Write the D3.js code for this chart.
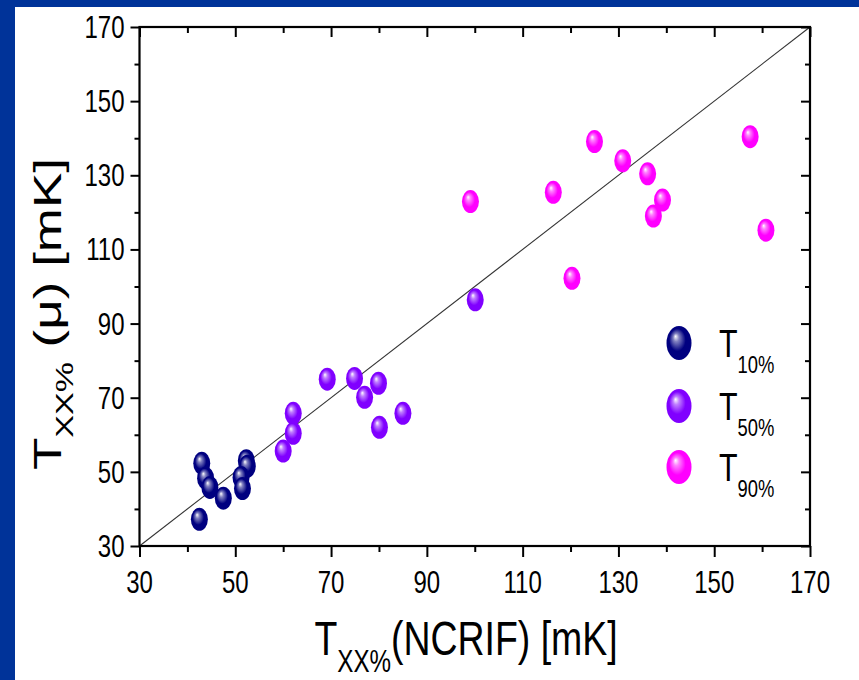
<!DOCTYPE html>
<html>
<head>
<meta charset="utf-8">
<script src="https://cdn.jsdelivr.net/npm/d3@7"></script>
<style>
html,body{margin:0;padding:0;background:#003399;}
svg{display:block;}
</style>
</head>
<body>
<svg id="chart" width="859" height="680"></svg>
<script>
// ---- data ----
const t10X = [43.0, 43.8, 44.7, 47.5, 42.5, 52.3, 52.5, 51.2, 51.5];
const t10Y = [52.3, 48.3, 45.8, 42.9, 37.2, 53.0, 51.5, 48.5, 45.5];
const t50X = [69.2, 74.9, 79.9, 77.0, 85.0, 80.1, 62.1, 62.1, 60.0, 100.1];
const t50Y = [75.0, 75.2, 73.9, 70.1, 65.8, 62.0, 65.8, 60.4, 55.6, 96.4];
const t90X = [99.1, 116.4, 125.0, 130.9, 120.3, 136.1, 139.2, 137.3, 157.5, 160.8];
const t90Y = [122.9, 125.4, 139.1, 133.9, 102.2, 130.4, 123.3, 119.0, 140.4, 115.2];
const seriesNames = ["10%", "50%", "90%"];
const seriesColors = ["#000080", "#8000ff", "#ff00ff"];
const tickValues = [30, 50, 70, 90, 110, 130, 150, 170];
const minorTicks = [40, 60, 80, 100, 120, 140, 160];
const domain = [30, 170];

(function () {
const svg = d3.select("#chart");
const W = 859, H = 680;
svg.append("rect").attr("x", 15).attr("y", 7).attr("width", W - 15).attr("height", H - 7).attr("fill", "#ffffff");

const L = 139.5, R = 810, T = 27, B = 546;
const x = d3.scaleLinear().domain(domain).range([L, R]);
const y = d3.scaleLinear().domain(domain).range([B, T]);

const defs = svg.append("defs");
seriesColors.forEach((c, i) => {
  const g = defs.append("radialGradient").attr("id", "ball" + i)
    .attr("cx", "0.5").attr("cy", "0.5").attr("r", "0.6")
    .attr("fx", "0.36").attr("fy", "0.3");
  g.append("stop").attr("offset", "0").attr("stop-color", "#ffffff");
  g.append("stop").attr("offset", "0.2").attr("stop-color", d3.interpolateRgb("#ffffff", c)(0.5));
  g.append("stop").attr("offset", "0.55").attr("stop-color", c);
  g.append("stop").attr("offset", "1").attr("stop-color", c);
});

const font = "'Liberation Sans', Arial, sans-serif";
const SX = 0.75;

// diagonal line
svg.append("line")
  .attr("x1", x(30)).attr("y1", y(30)).attr("x2", x(170)).attr("y2", y(170))
  .attr("stroke", "#333").attr("stroke-width", 1.1);

// axes frame
svg.append("rect").attr("x", L).attr("y", T).attr("width", R - L).attr("height", B - T)
  .attr("fill", "none").attr("stroke", "#000").attr("stroke-width", 2.2);

const axBottom = d3.axisBottom(x).tickValues(tickValues).tickSize(11).tickFormat("");
const axLeft = d3.axisLeft(y).tickValues(tickValues).tickSize(9).tickFormat("");
const axTop = d3.axisTop(x).tickValues(tickValues).tickSize(-10).tickFormat("");
const axRight = d3.axisRight(y).tickValues(tickValues).tickSize(-9).tickFormat("");
const axBottomMin = d3.axisBottom(x).tickValues(minorTicks).tickSize(6).tickFormat("");
const axLeftMin = d3.axisLeft(y).tickValues(minorTicks).tickSize(5).tickFormat("");
const axTopMin = d3.axisTop(x).tickValues(minorTicks).tickSize(-6).tickFormat("");
const axRightMin = d3.axisRight(y).tickValues(minorTicks).tickSize(-5).tickFormat("");

function addAxis(a, tx, ty) {
  const g = svg.append("g").attr("transform", `translate(${tx},${ty})`).call(a);
  g.select(".domain").remove();
  g.selectAll(".tick line").attr("stroke", "#000").attr("stroke-width", 2);
  return g;
}
addAxis(axBottom, 0, B); addAxis(axLeft, L, 0); addAxis(axTop, 0, T); addAxis(axRight, R, 0);
addAxis(axBottomMin, 0, B); addAxis(axLeftMin, L, 0); addAxis(axTopMin, 0, T); addAxis(axRightMin, R, 0);

// tick labels
svg.append("g").selectAll("text").data(tickValues).join("text")
  .attr("transform", d => `translate(${x(d)},${B + 47}) scale(${SX},1)`)
  .attr("text-anchor", "middle").attr("font-family", font).attr("font-size", 32)
  .attr("fill", "#000").text(d => d);
svg.append("g").selectAll("text").data(tickValues).join("text")
  .attr("transform", d => `translate(${L - 15},${y(d) + 11}) scale(${SX},1)`)
  .attr("text-anchor", "end").attr("font-family", font).attr("font-size", 32)
  .attr("fill", "#000").text(d => d);

// x label
const xl = svg.append("text")
  .attr("transform", `translate(466,655) scale(0.78,1)`)
  .attr("text-anchor", "middle").attr("font-family", font).attr("font-size", 48).attr("fill", "#000");
xl.append("tspan").text("T");
xl.append("tspan").attr("font-size", 31).attr("dy", 17).text("XX%");
xl.append("tspan").attr("dy", -17).text("(NCRIF) [mK]");

// y label
const yl = svg.append("text")
  .attr("transform", `translate(61,314) scale(0.72,1) rotate(-90)`)
  .attr("text-anchor", "middle").attr("font-family", font).attr("font-size", 53).attr("fill", "#000");
yl.append("tspan").text("T");
yl.append("tspan").attr("font-size", 34).attr("dy", 17).text("XX%");
yl.append("tspan").attr("dy", -17).text(" (\u03bc) [mK]");

// points
const series = [
  t10X.map((v, i) => ({x: v, y: t10Y[i]})),
  t50X.map((v, i) => ({x: v, y: t50Y[i]})),
  t90X.map((v, i) => ({x: v, y: t90Y[i]}))
];
series.forEach((pts, si) => {
  svg.append("g").selectAll("ellipse").data(pts).join("ellipse")
    .attr("cx", d => x(d.x)).attr("cy", d => y(d.y))
    .attr("rx", 8.5).attr("ry", 11.5)
    .attr("fill", `url(#ball${si})`);
});

// legend
const lg = svg.append("g");
const legendY = [343, 406, 467];
seriesNames.forEach((n, i) => {
  lg.append("ellipse").attr("cx", 679).attr("cy", legendY[i]).attr("rx", 12.5).attr("ry", 17)
    .attr("fill", `url(#ball${i})`);
  const t = lg.append("text")
    .attr("transform", `translate(719,${legendY[i] + 14}) scale(0.8,1)`)
    .attr("font-family", font).attr("font-size", 38).attr("fill", "#000");
  t.append("tspan").text("T");
  t.append("tspan").attr("font-size", 23).attr("dy", 16).text(n);
});
})();
</script>
</body>
</html>
